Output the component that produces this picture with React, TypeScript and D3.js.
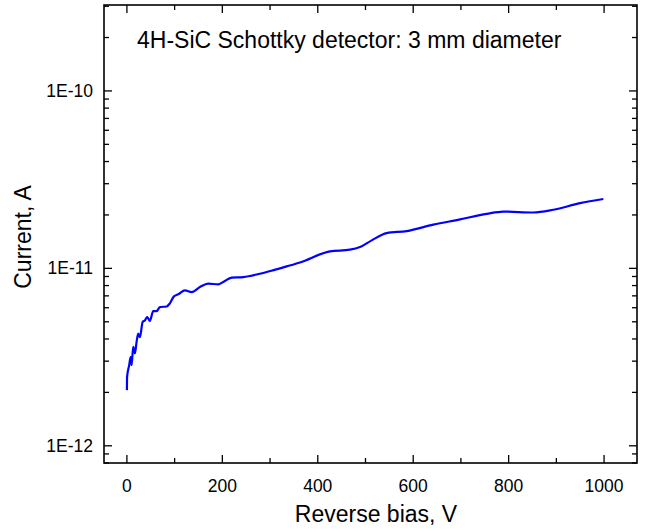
import React from "react";
import * as d3 from "d3";

const biasV = [0, 0.3, 4.8, 7.8, 9.9, 13.2, 16.8, 20.3, 23.7, 27.3, 32.9, 37.7, 42.6, 48.2, 55.1, 62.3, 69.2, 83.2, 90.1, 98.5, 107.5, 121.6, 135.6, 153, 170.4, 191.4, 201.9, 219.5, 243.8, 278.8, 306, 334.8, 362.7, 425.6, 467.5, 488.5, 513, 544.4, 586.4, 642.1, 698.1, 754.1, 788.9, 851.8, 893.7, 949.7, 998.5];
const currentA = [2.06e-12, 2.44e-12, 2.85e-12, 3.16e-12, 2.85e-12, 3.61e-12, 3.32e-12, 3.85e-12, 4.29e-12, 4.09e-12, 4.98e-12, 5.09e-12, 5.32e-12, 5.05e-12, 5.74e-12, 5.74e-12, 6.05e-12, 6.1e-12, 6.35e-12, 6.95e-12, 7.14e-12, 7.52e-12, 7.35e-12, 7.85e-12, 8.2e-12, 8.13e-12, 8.38e-12, 8.87e-12, 8.93e-12, 9.33e-12, 9.75e-12, 1.026e-11, 1.08e-11, 1.247e-11, 1.274e-11, 1.318e-11, 1.438e-11, 1.58e-11, 1.622e-11, 1.763e-11, 1.888e-11, 2.03e-11, 2.09e-11, 2.065e-11, 2.14e-11, 2.33e-11, 2.46e-11];

const xMajorTicks = [0, 200, 400, 600, 800, 1000];
const xMinorTicks = [100, 300, 500, 700, 900];
const yMajorTicks = [1e-12, 1e-11, 1e-10];
const yTickLabels = ["1E-12", "1E-11", "1E-10"];
const title = "4H-SiC Schottky detector: 3 mm diameter";
const xLabel = "Reverse bias, V";
const yLabel = "Current, A";

export default function App() {
  const W = 654, H = 532;
  const left = 104, right = 637, top = 5, bottom = 463;
  const x = d3.scaleLinear().domain([-48, 1069]).range([left, right]);
  const y = d3.scaleLog().domain([8e-13, 3.05e-10]).range([bottom, top]);

  const yMinor: number[] = [];
  for (let e = -13; e <= -10; e++) {
    for (let m = 2; m <= 9; m++) {
      const v = m * Math.pow(10, e);
      if (v >= 8e-13 && v <= 3.05e-10) yMinor.push(v);
    }
  }

  const data = biasV.map((v, i) => [v, currentA[i]] as [number, number]);
  const line = d3
    .line<[number, number]>()
    .x((d) => x(d[0]))
    .y((d) => y(d[1]))
    .curve(d3.curveMonotoneX);

  const font = "Arial, 'Liberation Sans', sans-serif";
  const major = 8, minor = 5;

  return (
    <svg width={W} height={H} style={{ position: "absolute", left: 0, top: 0, background: "#fff" }} fontFamily={font}>
      <rect x={0} y={0} width={W} height={H} fill="#fff" />
      <path d={line(data) || ""} fill="none" stroke="#0000ff" strokeWidth={2.2} strokeLinejoin="round" />
      <g stroke="#000" strokeWidth={1.3}>
        {xMajorTicks.map((t) => (
          <g key={"xm" + t}>
            <line x1={x(t)} x2={x(t)} y1={bottom} y2={bottom - major} />
            <line x1={x(t)} x2={x(t)} y1={top} y2={top + major} />
          </g>
        ))}
        {xMinorTicks.map((t) => (
          <g key={"xn" + t}>
            <line x1={x(t)} x2={x(t)} y1={bottom} y2={bottom - minor} />
            <line x1={x(t)} x2={x(t)} y1={top} y2={top + minor} />
          </g>
        ))}
        {yMajorTicks.map((t) => (
          <g key={"ym" + t}>
            <line x1={left} x2={left + major} y1={y(t)} y2={y(t)} />
            <line x1={right} x2={right - major} y1={y(t)} y2={y(t)} />
          </g>
        ))}
        {yMinor.map((t) => (
          <g key={"yn" + t}>
            <line x1={left} x2={left + minor} y1={y(t)} y2={y(t)} />
            <line x1={right} x2={right - minor} y1={y(t)} y2={y(t)} />
          </g>
        ))}
      </g>
      <rect x={left} y={top} width={right - left} height={bottom - top} fill="none" stroke="#000" strokeWidth={1.6} />
      <g fontSize={17.5} fill="#000">
        {xMajorTicks.map((t) => (
          <text key={"xl" + t} x={x(t)} y={492} textAnchor="middle">{t}</text>
        ))}
        {yMajorTicks.map((t, i) => (
          <text key={"yl" + t} x={93} y={y(t) + 6} textAnchor="end">{yTickLabels[i]}</text>
        ))}
      </g>
      <text x={137} y={48} fontSize={23} fill="#000">{title}</text>
      <text x={376} y={522} fontSize={23} textAnchor="middle" fill="#000">{xLabel}</text>
      <text transform={`translate(31, 237) rotate(-90)`} fontSize={23} textAnchor="middle" fill="#000">{yLabel}</text>
    </svg>
  );
}
